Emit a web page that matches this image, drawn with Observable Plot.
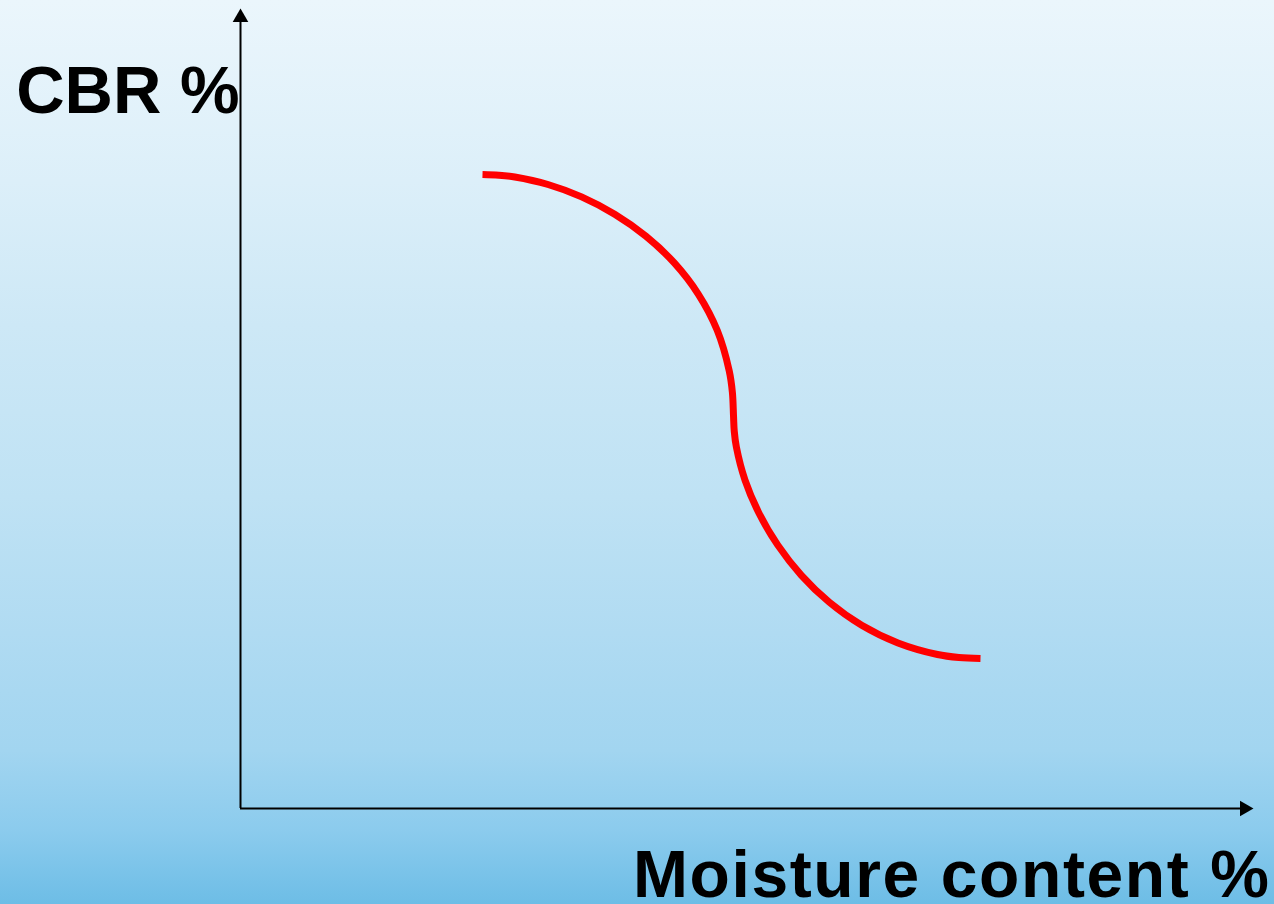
<!DOCTYPE html>
<html>
<head>
<meta charset="utf-8">
<script src="https://cdn.jsdelivr.net/npm/d3@7"></script>
<script src="https://cdn.jsdelivr.net/npm/@observablehq/plot@0.6"></script>
<style>
  html, body { margin: 0; padding: 0; overflow: hidden; }
  body { width: 1274px; height: 904px; }
</style>
</head>
<body>
<div id="chart"></div>
<script>
// Curve (moisture content, CBR), arbitrary 0–100 units
const moisture = [24.2, 25.83, 27.43, 30.75, 34.11, 37.42, 40.55, 43.38, 45.79, 47.67, 48.87, 49.19, 49.30,
                  49.375, 49.59, 50.45, 51.84, 53.73, 56.09, 58.90, 62.12, 65.75, 69.70, 71.85, 74.00];
const cbr      = [80.66, 80.57, 80.34, 79.39, 77.81, 75.60, 72.80, 69.41, 65.42, 60.84, 55.70, 52.93, 50.00,
                  48.02, 45.97, 41.78, 37.60, 33.51, 29.67, 26.22, 23.31, 21.06, 19.59, 19.21, 19.08];
const xLabel = "Moisture content %";
const yLabel = "CBR %";
const xMax = 100, yMax = 100;

const curve = moisture.map((m, i) => ({m, c: cbr[i]}));

const chart = Plot.plot({
  width: 1274,
  height: 904,
  marginLeft: 240,
  marginRight: 34,
  marginTop: 22,
  marginBottom: 96,
  x: {domain: [0, xMax], axis: null},
  y: {domain: [0, yMax], axis: null},
  style: {
    background: "linear-gradient(to bottom, #ebf6fc 0%, #dcEff9 20%, #cde8f6 36%, #bfe2f4 55%, #b0dbf2 70%, #a2d5f0 83%, #8bcbed 92%, #6dbde6 100%)",
    fontFamily: "'Liberation Sans', Arial, sans-serif"
  },
  marks: [
    Plot.ruleX([0], {y1: 0, y2: yMax, stroke: "black", strokeWidth: 2}),
    Plot.ruleY([0], {x1: 0, x2: xMax, stroke: "black", strokeWidth: 2}),
    Plot.dot([{x: 0, y: yMax}], {x: "x", y: "y", symbol: "triangle", r: 5.8, fill: "black", stroke: "none", dy: -5}),
    Plot.dot([{x: xMax, y: 0}], {x: "x", y: "y", symbol: "triangle", r: 5.8, fill: "black", stroke: "none", rotate: 90, dx: 4}),
    Plot.line(curve, {x: "m", y: "c", stroke: "#ff0000", strokeWidth: 7, curve: "catmull-rom", strokeLinecap: "butt"}),
    Plot.text([yLabel], {frameAnchor: "top-left", text: d => d, textAnchor: "end", lineAnchor: "bottom", dx: -1, dy: 90, fontSize: 67, fontWeight: "bold", fill: "black"}),
    Plot.text([xLabel], {frameAnchor: "bottom-right", text: d => d, textAnchor: "end", lineAnchor: "bottom", dx: 30, dy: 88, fontSize: 66, fontWeight: "bold", fill: "black"})
  ]
});
chart.querySelectorAll("text").forEach(t => {
  if (t.textContent === xLabel) t.style.letterSpacing = "1.6px";
});
document.getElementById("chart").appendChild(chart);
</script>
</body>
</html>
